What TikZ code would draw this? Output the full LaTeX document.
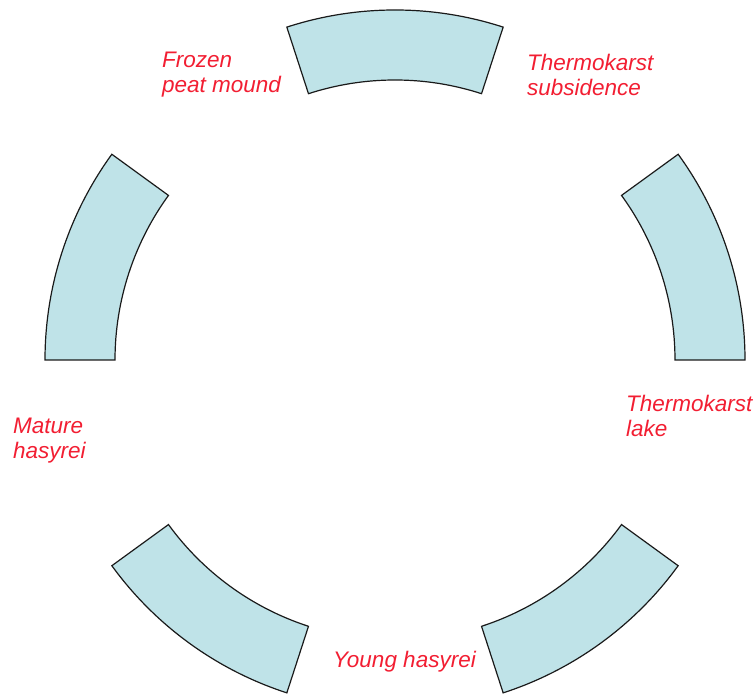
\documentclass[tikz,border=0pt]{standalone}
\usepackage{fontspec}
\setmainfont{Liberation Sans}
\usepackage{tikz}
\usepackage{xcolor}
\definecolor{ringfill}{HTML}{BFE3E8}
\definecolor{ringline}{HTML}{1A1A1A}
\definecolor{stagered}{HTML}{F21E32}
\tikzset{
  ringseg/.style  ={draw=ringline, fill=ringfill, line width=1.2pt, line join=miter},
  stagelbl/.style ={text=stagered, align=left, inner sep=0pt, anchor=base west,
                    font=\fontsize{22.5}{25}\selectfont\itshape},
}

\begin{document}
\begin{tikzpicture}[x=1pt,y=1pt]
    \useasboundingbox (0,0) rectangle (756,696);
    % ----- five ring segments round the cycle -----
    \begin{scope}[shift={(395,336)}]
      \foreach \a in {0,72,144,216,288}
        \draw[ringseg] (\a:350) arc[start angle=\a, end angle=\a+36, radius=350]
          -- (\a+36:280) arc[start angle=\a+36, end angle=\a, radius=280] -- cycle;
    \end{scope}

    % ----- stage labels (anchored on their last line) -----
    \node[stagelbl] (frozen) at (162,603) {Frozen\\peat mound};
    \node[stagelbl] (subsid) at (527,600) {Thermokarst\\subsidence};
    \node[stagelbl] (lake)   at (626,259) {Thermokarst\\lake};
    \node[stagelbl] (young)  at (333,28)  {Young hasyrei};
    \node[stagelbl] (mature) at (13,237)  {Mature\\hasyrei};
\end{tikzpicture}
\end{document}
